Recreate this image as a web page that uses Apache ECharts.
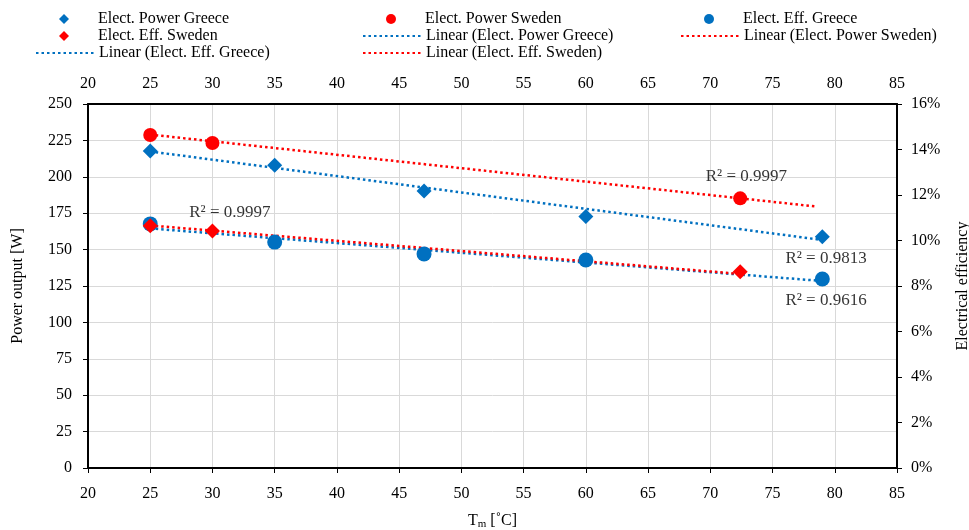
<!DOCTYPE html>
<html><head><meta charset="utf-8">
<script src="https://cdn.jsdelivr.net/npm/echarts@6/dist/echarts.min.js"></script>
<style>html,body{margin:0;padding:0;background:#fff}#c{width:969px;height:530px}</style>
</head><body><div id="c"></div>
<script>
// Data
const powerGreeceX = [25, 35, 47, 60, 79];
const powerGreeceY = [217.7, 208, 190.2, 172.8, 158.9];
const powerSwedenX = [25, 30, 72.4];
const powerSwedenY = [228.7, 223.2, 185.2];
const effGreeceX = [25, 35, 47, 60, 79];
const effGreeceY = [0.1073, 0.0993, 0.0941, 0.0914, 0.0831];
const effSwedenX = [25, 30, 72.4];
const effSwedenY = [0.1065, 0.1042, 0.0863];
// trendline endpoints
const trendPowerGreeceX = [25, 79];
const trendPowerGreeceY = [217.4, 156.6];
const trendPowerSwedenX = [25, 78.6];
const trendPowerSwedenY = [229, 179.5];
const trendEffGreeceX = [25, 79];
const trendEffGreeceY = [0.1053, 0.0822];
const trendEffSwedenX = [25, 72.4];
const trendEffSwedenY = [0.1066, 0.0853];
// R² annotations: x, y (left axis units), text
const r2X = [31.4, 72.9, 79.3, 79.3];
const r2Y = [175.8, 200.5, 144.2, 114.7];
const r2Text = ['R² = 0.9997', 'R² = 0.9997', 'R² = 0.9813', 'R² = 0.9616'];

const BLUE = '#0070C0', RED = '#FF0000';
const FONT = 'Liberation Serif';
const zip = (xs, ys) => xs.map((x, i) => [x, ys[i]]);

const chart = echarts.init(document.getElementById('c'));
const txt = {fontFamily: FONT, fontSize: 16, color: '#000'};
const gridLine = {show: true, lineStyle: {color: '#d9d9d9', width: 1}};
const axLine = {show: true, onZero: false, lineStyle: {color: '#000', width: 2}};
const tick = {show: true, inside: false, length: 5, lineStyle: {color: '#000', width: 1}};

function trend(name, xs, ys, color, yi) {
  return {name, type: 'line', yAxisIndex: yi, data: zip(xs, ys), symbol: 'none',
    lineStyle: {color, width: 2.5, type: [2.5, 3]}, itemStyle: {color}, z: 2, silent: true};
}
function scat(name, xs, ys, color, symbol, size, yi) {
  return {name, type: 'scatter', yAxisIndex: yi, data: zip(xs, ys), symbol, symbolSize: size,
    itemStyle: {color, opacity: 1}, z: 3};
}
const lineItem = name => ({name, itemStyle: {opacity: 0}});

const ROW = 17, TOP0 = 11;
function symLegend(left, row, names) {
  return {orient: 'vertical', left, top: TOP0 + row * ROW, padding: 0, itemWidth: 10, itemHeight: 10, itemGap: 1,
    selectedMode: false, data: names,
    textStyle: {fontFamily: FONT, fontSize: 16, color: '#000', lineHeight: 16, padding: [0, 0, 0, 24]}};
}
function lineLegend(left, row, names) {
  return {orient: 'vertical', left, top: TOP0 + row * ROW, padding: 0, itemWidth: 58, itemHeight: 10, itemGap: 1,
    selectedMode: false, data: names.map(lineItem),
    textStyle: {fontFamily: FONT, fontSize: 16, color: '#000', lineHeight: 16}};
}

chart.setOption({
  animation: false,
  textStyle: {fontFamily: FONT},
  grid: {left: 88, right: 72, top: 104, bottom: 62, containLabel: false, outerBoundsMode: 'none'},
  legend: [
    symLegend(59, 0, ['Elect. Power Greece', 'Elect. Eff. Sweden']),
    lineLegend(35, 2, ['Linear (Elect. Eff. Greece)']),
    symLegend(386, 0, ['Elect. Power Sweden']),
    lineLegend(362, 1, ['Linear (Elect. Power Greece)', 'Linear (Elect. Eff. Sweden)']),
    symLegend(704, 0, ['Elect. Eff. Greece']),
    lineLegend(680, 1, ['Linear (Elect. Power Sweden)'])
  ],
  xAxis: [
    {type: 'value', position: 'bottom', min: 20, max: 85, interval: 5,
      axisLine: axLine, axisTick: tick, splitLine: gridLine,
      axisLabel: Object.assign({margin: 18}, txt),
      name: 'T{sub|m} [˚C]', nameLocation: 'middle', nameGap: 43,
      nameTextStyle: {fontFamily: FONT, fontSize: 16, color: '#000',
        rich: {sub: {fontFamily: FONT, fontSize: 11, color: '#000', verticalAlign: 'bottom', padding: [8, 0, 0, 0]}}}},
    {type: 'value', position: 'top', min: 20, max: 85, interval: 5,
      axisLine: axLine, axisTick: {show: false}, splitLine: {show: false},
      axisLabel: Object.assign({margin: 12}, txt)}
  ],
  yAxis: [
    {type: 'value', position: 'left', min: 0, max: 250, interval: 25,
      axisLine: axLine, axisTick: tick, splitLine: gridLine,
      axisLabel: Object.assign({margin: 16}, txt),
      name: 'Power output [W]', nameLocation: 'middle', nameGap: 62, nameRotate: 90,
      nameTextStyle: {fontFamily: FONT, fontSize: 16, color: '#000'}},
    {type: 'value', position: 'right', min: 0, max: 0.16, interval: 0.02,
      axisLine: axLine, axisTick: tick, splitLine: {show: false},
      axisLabel: Object.assign({margin: 14, formatter: v => Math.round(v * 100) + '%'}, txt),
      name: 'Electrical efficiency', nameLocation: 'middle', nameGap: 58, nameRotate: 90,
      nameTextStyle: {fontFamily: FONT, fontSize: 16, color: '#000'}}
  ],
  series: [
    trend('Linear (Elect. Power Greece)', trendPowerGreeceX, trendPowerGreeceY, BLUE, 0),
    trend('Linear (Elect. Power Sweden)', trendPowerSwedenX, trendPowerSwedenY, RED, 0),
    trend('Linear (Elect. Eff. Greece)', trendEffGreeceX, trendEffGreeceY, BLUE, 1),
    trend('Linear (Elect. Eff. Sweden)', trendEffSwedenX, trendEffSwedenY, RED, 1),
    scat('Elect. Power Greece', powerGreeceX, powerGreeceY, BLUE, 'diamond', 15, 0),
    scat('Elect. Power Sweden', powerSwedenX, powerSwedenY, RED, 'circle', 14, 0),
    scat('Elect. Eff. Greece', effGreeceX, effGreeceY, BLUE, 'circle', 15, 1),
    scat('Elect. Eff. Sweden', effSwedenX, effSwedenY, RED, 'diamond', 15, 1),
    {name: 'r2', type: 'scatter', yAxisIndex: 0, symbolSize: 0, silent: true, z: 5,
      data: r2X.map((x, i) => ({value: [x, r2Y[i]], label: {formatter: r2Text[i]}})),
      label: {show: true, position: 'inside', fontFamily: FONT, fontSize: 17, color: '#000'}}
  ]
});
</script></body></html>
